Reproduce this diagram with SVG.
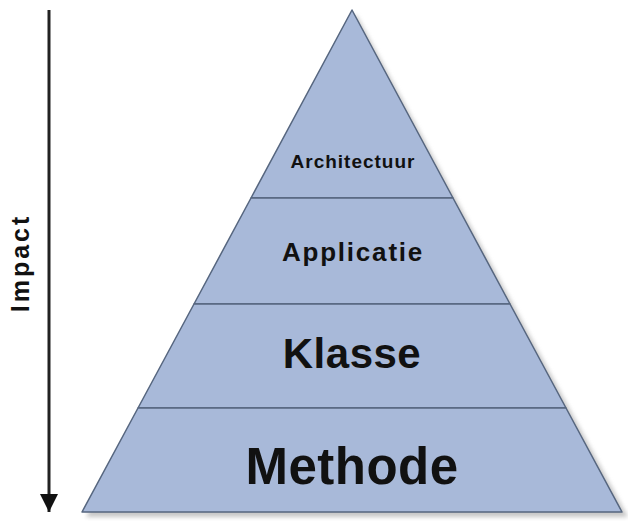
<svg xmlns="http://www.w3.org/2000/svg" width="628" height="521" viewBox="0 0 628 521">
<style>
.lvl{fill:#a8b9d9;stroke:#56667f;stroke-width:1.5;stroke-linejoin:round}
.t{font-family:"Liberation Sans",Arial,sans-serif;font-weight:bold;fill:#111;text-anchor:middle}
</style>
<defs>
<marker id="ah" viewBox="0 0 10 10" refX="10" refY="5" markerWidth="6" markerHeight="6" orient="auto" markerUnits="strokeWidth">
<path d="M0,0 L10,5 L0,10 Z" fill="#111"/>
</marker>
<filter id="sh" x="-10%" y="-10%" width="130%" height="130%">
<feGaussianBlur stdDeviation="2"/>
</filter>
</defs>
<rect width="628" height="521" fill="#fff"/>
<polygon points="356,14 628,517 86,517" fill="#999" opacity="0.55" filter="url(#sh)"/>
<g id="architectuur">
<polygon class="lvl" points="352,10 453,198 251,198"/>
<text class="t" x="353" y="168" font-size="19" letter-spacing="1">Architectuur</text>
</g>
<g id="applicatie">
<polygon class="lvl" points="251,198 453,198 510,304 194,304"/>
<text class="t" x="353" y="261" font-size="26" letter-spacing="1.8">Applicatie</text>
</g>
<g id="klasse">
<polygon class="lvl" points="194,304 510,304 566,408 138,408"/>
<text class="t" x="352" y="368" font-size="42" letter-spacing="0.5">Klasse</text>
</g>
<g id="methode">
<polygon class="lvl" points="138,408 566,408 622,512 82,512"/>
<text class="t" x="352" y="484" font-size="51" letter-spacing="0.5">Methode</text>
</g>
<g id="connectors">
<line x1="49" y1="10" x2="49" y2="512" stroke="#222" stroke-width="3" marker-end="url(#ah)"/>
</g>
<g id="impact">
<text class="t" transform="translate(29,263) rotate(-90)" font-size="25" letter-spacing="3">Impact</text>
</g>
</svg>
